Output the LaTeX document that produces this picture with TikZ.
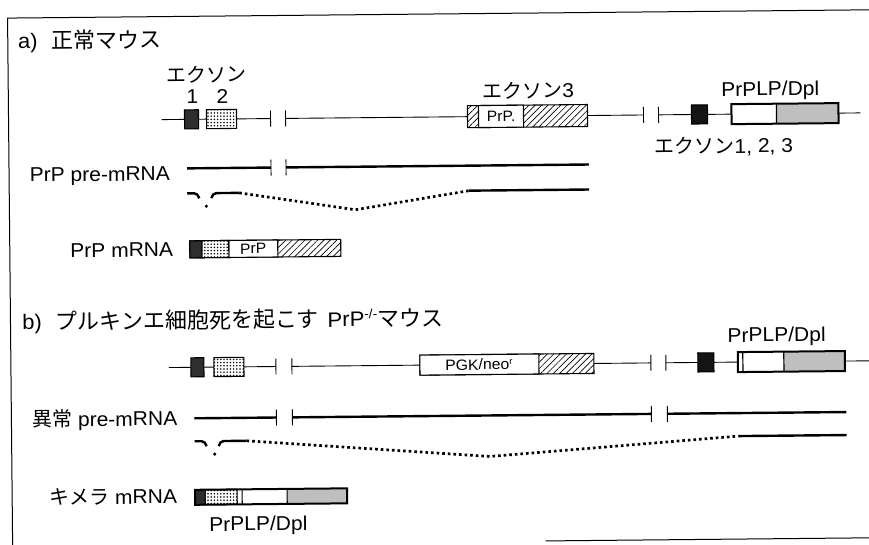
\documentclass[tikz,border=0pt]{standalone}
\usepackage{fontspec}
\setmainfont{Liberation Sans}[FakeStretch=1.05]
\newfontfamily\jp{Noto Sans CJK JP}
\usetikzlibrary{patterns.meta}
\begin{document}
\begin{tikzpicture}[x=1pt,y=-1pt,
  lbl/.style={inner sep=0pt, font=\fontsize{20}{24}\selectfont},
  ttl/.style={inner sep=0pt, font=\fontsize{21}{25}\selectfont},
  small/.style={inner sep=0pt, font=\fontsize{15}{18}\selectfont},
  gene/.style={line width=0.9pt},
  pre/.style={line width=2.4pt},
  tickmark/.style={line width=0.9pt},
  splice/.style={line width=2.7pt, dash pattern=on 2.6pt off 3pt},
  exbox/.style={draw, line width=1.1pt},
  darkex/.style={exbox, fill=black!82},
  blackex/.style={exbox, fill=black!92},
  dotex/.style={exbox, fill=white, postaction={pattern={Dots[distance=3.2pt,radius=0.85pt]}}},
  hatchex/.style={exbox, fill=white, postaction={pattern={Lines[angle=45,distance=4.5pt,line width=0.65pt]}}},
  whiteex/.style={exbox, fill=white},
  outerbox/.style={draw, line width=2pt},
]
\fill[white] (0,0) rectangle (869,545);
\useasboundingbox (0,0) rectangle (869,545);

\begin{scope}[rotate around={0.55:(434,272)}, transform shape]
% frame
\draw[line width=1pt] (10,548) -- (10,14) -- (878,14);
\draw[line width=1pt] (543,542) -- (878,542);

% ---------- a) ----------
\node[ttl, anchor=base west] (ta) at (20,45) {a)\hspace{14pt}{\jp\fontsize{22}{26}\selectfont 正常マウス}};
\node[lbl, anchor=base] (exlbl) at (208,80) {\jp エクソン};
\node[lbl, anchor=base] (n1) at (194,101) {1};
\node[lbl, anchor=base] (n2) at (224,101) {2};

% gene line a
\draw[gene] (163,117) -- (272,117);
\draw[gene] (287,117) -- (645,117);
\draw[gene] (660,117) -- (862,117);
\foreach \x in {272,287,645,660} \draw[tickmark] (\x,109) -- (\x,125);
\draw[darkex] (186,107.5) rectangle (200,126.5);
\draw[dotex] (208,107.5) rectangle (238,126.5);
\draw[hatchex] (469,106) rectangle (589,128);
\draw[whiteex] (480,106) rectangle (525,128);
\node[small] (prpA) at (502.5,117) {PrP.};
\draw[blackex] (693,107.5) rectangle (709,126.5);
\fill[white] (733,107) rectangle (778,127);
\fill[black!25] (778,107) rectangle (840,127);
\draw[line width=1.2pt] (778,107) -- (778,127);
\draw[outerbox] (733,107) rectangle (840,127);
\node[lbl, anchor=base] (ex3) at (530,99) {{\jp エクソン}3};
\node[lbl, anchor=base] (dplA) at (772,99) {PrPLP/Dpl};
\node[lbl, anchor=base] (ex123) at (725,156) {{\jp エクソン}1, 2, 3};

% pre-mRNA a
\node[lbl, anchor=base east] (preA) at (171,178) {PrP pre-mRNA};
\draw[pre] (188,166) -- (272,166);
\draw[pre] (287,166) -- (590,166);
\foreach \x in {272,287} \draw[tickmark] (\x,158) -- (\x,174);

% spliced a
\draw[pre] (188,191) -- (195,191) .. controls (197.5,191) and (199,193) .. (200,196);
\fill (207,204) circle (1.7pt);
\draw[pre] (212,196) .. controls (213,193) and (214.5,191) .. (217,191) -- (240,191);
\draw[splice] (240,191) -- (356,209) -- (470,191);
\draw[pre] (470,191) -- (590,191);

% mRNA a
\node[lbl, anchor=base east] (mA) at (173.5,254) {PrP mRNA};
\draw[hatchex] (190,238.5) rectangle (341,255.5);
\draw[whiteex] (229,238.5) rectangle (278,255.5);
\draw[dotex] (202,238.5) rectangle (229,255.5);
\draw[darkex] (190,238.5) rectangle (202,255.5);
\node[small] (prpM) at (253.5,247) {PrP};

% ---------- b) ----------
\node[ttl, anchor=base west] (tb) at (21.5,326) {b)\hspace{14pt}{\jp\fontsize{22}{26}\selectfont プルキンエ細胞死を起こす}\hspace{9pt}PrP\raisebox{8pt}{\fontsize{13}{13}\selectfont -/-}{\jp\fontsize{22}{26}\selectfont マウス}};

% gene line b
\draw[gene] (168,365) -- (275,365);
\draw[gene] (291,365) -- (650,365);
\draw[gene] (665,365) -- (872,365);
\foreach \x in {275,291,650,665} \draw[tickmark] (\x,357) -- (\x,373);
\draw[darkex] (190,355.5) rectangle (203,374.5);
\draw[dotex] (213,355.5) rectangle (243,374.5);
\draw[hatchex] (419,355) rectangle (593,375);
\draw[whiteex] (419,355) rectangle (538,375);
\node[small] (pgk) at (478,365) {PGK/neo\raisebox{5pt}{\fontsize{9}{9}\selectfont r}};
\draw[blackex] (697,355.5) rectangle (713,374.5);
\fill[white] (737,355) rectangle (783,375);
\fill[black!25] (783,355) rectangle (844,375);
\draw[line width=1.2pt] (742,355) -- (742,375);
\draw[line width=1.2pt] (783,355) -- (783,375);
\draw[outerbox] (737,355) rectangle (844,375);
\node[lbl, anchor=base] (dplB) at (776,345) {PrPLP/Dpl};

% pre-mRNA b
\node[lbl, anchor=base east] (preB) at (176,423) {{\jp 異常} pre-mRNA};
\draw[pre] (193,416) -- (275,416);
\draw[pre] (291,416) -- (650,416);
\draw[pre] (666,416) -- (845,416);
\foreach \x in {275,291,650,666} \draw[tickmark] (\x,408) -- (\x,424);

% spliced b
\draw[pre] (193,439) -- (200,439) .. controls (202.5,439) and (204,441) .. (205,444);
\fill (213,452) circle (1.7pt);
\draw[pre] (217,444) .. controls (218,441) and (219.5,439) .. (222,439) -- (245,439);
\draw[splice] (245,439) -- (488,457) -- (737,439);
\draw[pre] (737,439) -- (845,439);

% chimera mRNA
\node[lbl, anchor=base east] (mB) at (175,501) {{\jp キメラ} mRNA};
\fill[white] (193,487.5) rectangle (345,502.5);
\fill[black!25] (285,487.5) rectangle (345,502.5);
\draw[dotex] (203,487.5) rectangle (235,502.5);
\draw[darkex] (193,487.5) rectangle (203,502.5);
\draw[line width=1.1pt] (240,487.5) -- (240,502.5);
\draw[line width=1.1pt] (285,487.5) -- (285,502.5);
\draw[outerbox] (193,487.5) rectangle (345,502.5);
\node[lbl, anchor=base] (dplC) at (256,529) {PrPLP/Dpl};
\end{scope}
\end{tikzpicture}
\end{document}
